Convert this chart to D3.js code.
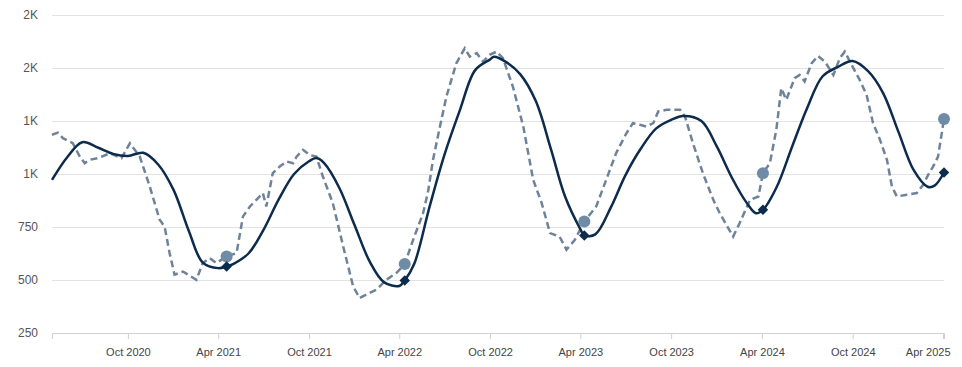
<!DOCTYPE html>
<html>
<head>
<meta charset="utf-8">
<script src="https://cdn.jsdelivr.net/npm/d3@7"></script>
<style>
  body { margin: 0; background: #fff; }
  svg { display: block; font-family: "Liberation Sans", Arial, sans-serif; }
</style>
</head>
<body>
<svg id="chart"></svg>
<script>
// datos
const fechasSuave = ["2020-05-01","2020-06-01","2020-07-01","2020-08-01","2020-09-01","2020-10-01","2020-11-01","2020-12-01",
  "2021-01-01","2021-02-01","2021-03-01","2021-04-01","2021-04-18","2021-05-01","2021-06-01","2021-07-01","2021-08-01","2021-09-01",
  "2021-10-01","2021-10-16","2021-11-01","2021-12-01","2022-01-01","2022-02-01","2022-03-01","2022-04-01","2022-04-12","2022-05-01",
  "2022-06-01","2022-07-01","2022-08-01","2022-09-01","2022-10-01","2022-10-09","2022-11-01","2022-12-01","2023-01-01","2023-02-01",
  "2023-03-01","2023-04-01","2023-04-09","2023-05-01","2023-06-01","2023-07-01","2023-08-01","2023-09-01","2023-10-01","2023-10-25",
  "2023-12-01","2024-01-01","2024-02-01","2024-03-01","2024-03-20","2024-04-03","2024-05-01","2024-06-01","2024-07-01","2024-08-01",
  "2024-09-01","2024-10-01","2024-11-01","2024-12-01","2025-01-01","2025-02-01","2025-03-01","2025-03-15","2025-04-03"];
const valoresSuave = [972,1080,1150,1125,1095,1085,1100,1045,
  925,730,582,556,564,575,625,735,880,1000,
  1060,1075,1050,935,758,584,490,472,498,575,
  845,1090,1300,1490,1540,1553,1530,1470,1345,1115,
  895,740,710,715,840,995,1120,1215,1255,1274,
  1250,1130,980,865,815,831,940,1130,1310,1460,
  1505,1533,1485,1383,1200,1018,940,945,1007];

const fechasSemanal = ["2020-05-01","2020-05-13","2020-05-23","2020-06-12","2020-06-26","2020-07-06","2020-07-16","2020-08-02",
  "2020-08-26","2020-09-18","2020-10-05","2020-10-25","2020-11-14","2020-12-04","2020-12-14","2020-12-24","2021-01-03","2021-01-20",
  "2021-02-16","2021-03-01","2021-03-15","2021-03-28","2021-04-18","2021-05-08","2021-05-21","2021-06-04","2021-06-17","2021-06-30",
  "2021-07-07","2021-07-20","2021-08-03","2021-08-17","2021-08-30","2021-09-06","2021-09-19","2021-10-02","2021-10-16","2021-10-29",
  "2021-11-18","2021-12-09","2021-12-29","2022-01-11","2022-01-31","2022-02-14","2022-03-06","2022-03-26","2022-04-12","2022-04-29",
  "2022-05-19","2022-05-29","2022-06-08","2022-06-22","2022-07-05","2022-07-15","2022-07-25","2022-08-11","2022-08-21","2022-09-04",
  "2022-09-17","2022-09-30","2022-10-14","2022-10-27","2022-11-16","2022-12-07","2022-12-27","2023-01-13","2023-01-30","2023-02-18",
  "2023-03-04","2023-03-21","2023-04-09","2023-05-03","2023-05-23","2023-06-12","2023-07-03","2023-07-16","2023-07-30","2023-08-12",
  "2023-08-26","2023-09-05","2023-09-22","2023-10-19","2023-10-29","2023-11-14","2023-12-04","2023-12-25","2024-01-07","2024-02-03",
  "2024-02-16","2024-03-08","2024-03-25","2024-04-03","2024-04-17","2024-04-30","2024-05-10","2024-05-20","2024-06-06","2024-06-16",
  "2024-06-26","2024-07-10","2024-07-23","2024-08-06","2024-08-23","2024-09-05","2024-09-15","2024-09-29","2024-10-15","2024-10-29",
  "2024-11-11","2024-11-25","2024-12-09","2024-12-19","2024-12-29","2025-01-18","2025-02-07","2025-02-20","2025-03-02","2025-03-12",
  "2025-03-22","2025-04-03"];
const valoresSemanal = [1185,1195,1169,1145,1082,1051,1067,1075,
  1098,1075,1145,1082,941,784,752,627,525,540,
  501,580,603,580,611,627,800,847,878,910,
  847,1004,1035,1059,1051,1082,1114,1090,1082,988,
  863,658,470,415,439,454,501,533,575,690,
  815,917,1067,1224,1365,1444,1522,1593,1554,1570,
  1530,1562,1577,1546,1412,1224,972,863,721,705,
  643,690,776,847,972,1098,1193,1240,1232,1224,
  1240,1295,1303,1303,1271,1145,1004,878,815,705,
  768,878,894,1004,1051,1208,1405,1350,1452,1467,
  1436,1522,1557,1530,1467,1546,1577,1514,1444,1373,
  1240,1161,1067,941,894,902,910,949,996,1035,
  1082,1259];

// fechas marcadas cada abril
const fechasMarcas = ["2021-04-18","2022-04-12","2023-04-09","2024-04-03","2025-04-03"];

const ticksX = ["2020-10-01","2021-04-01","2021-10-01","2022-04-01","2022-10-01","2023-04-01","2023-10-01","2024-04-01","2024-10-01","2025-04-01"];
const ticksY = [250, 500, 750, 1000, 1250, 1500, 1750];

const WIDTH = 962;
const HEIGHT = 367;
const margins = { top: 15, bottom: 34, left: 52, right: 18 };

const parse = d3.timeParse("%Y-%m-%d");

const svg = d3.select("#chart")
    .attr("width", WIDTH)
    .attr("height", HEIGHT);

const escalaX = d3.scaleTime()
    .domain([parse("2020-05-01"), parse("2025-04-03")])
    .range([margins.left, WIDTH - margins.right]);

const escalaY = d3.scaleLinear()
    .domain([250, 1750])
    .range([HEIGHT - margins.bottom, margins.top]);

// formato tipo "1K", "2K"
const formatoY = v => v >= 1000 ? d3.format(".1s")(v).toUpperCase() : String(v);

// grilla horizontal + etiquetas Y
const ejeY = d3.axisLeft(escalaY)
    .tickValues(ticksY)
    .tickSize(-(WIDTH - margins.left - margins.right))
    .tickFormat(formatoY);

svg.append("g")
    .attr("transform", `translate(${margins.left},0)`)
    .call(ejeY)
    .call(g => g.select(".domain").remove())
    .call(g => g.selectAll(".tick line").attr("stroke", "#e3e3e3").attr("stroke-width", 1))
    .call(g => g.selectAll(".tick text")
        .attr("x", -14)
        .attr("fill", "#555")
        .attr("font-size", 12));

// eje X
const ejeX = d3.axisBottom(escalaX)
    .tickValues(ticksX.map(parse))
    .tickSize(6)
    .tickFormat(d3.timeFormat("%b %Y"));

const gX = svg.append("g")
    .attr("transform", `translate(0,${HEIGHT - margins.bottom})`)
    .call(ejeX)
    .call(g => g.select(".domain").attr("stroke", "#d0d0d0"))
    .call(g => g.selectAll(".tick line").attr("stroke", "#d0d0d0"))
    .call(g => g.selectAll(".tick text")
        .attr("dy", "1.25em")
        .attr("fill", "#444")
        .attr("font-size", 11));

// la ultima etiqueta se corre a la izquierda para que no se corte
gX.selectAll(".tick:last-of-type text")
    .attr("text-anchor", "end")
    .attr("x", 7);

const datosSuave = fechasSuave.map((f, i) => ({ fecha: parse(f), valor: valoresSuave[i] }));
const datosSemanal = fechasSemanal.map((f, i) => ({ fecha: parse(f), valor: valoresSemanal[i] }));

const lineaSuave = d3.line()
    .x(d => escalaX(d.fecha))
    .y(d => escalaY(d.valor))
    .curve(d3.curveCatmullRom.alpha(0.5));

const lineaSemanal = d3.line()
    .x(d => escalaX(d.fecha))
    .y(d => escalaY(d.valor));

svg.append("path")
    .datum(datosSemanal)
    .attr("d", lineaSemanal)
    .attr("fill", "none")
    .attr("stroke", "#6e8399")
    .attr("stroke-width", 2.5)
    .attr("stroke-dasharray", "7,4");

svg.append("path")
    .datum(datosSuave)
    .attr("d", lineaSuave)
    .attr("fill", "none")
    .attr("stroke", "#0c2b4d")
    .attr("stroke-width", 2.5);

// marcadores
const buscar = (datos, f) => datos.find(d => +d.fecha === +parse(f));

svg.append("g").selectAll("circle")
    .data(fechasMarcas.map(f => buscar(datosSemanal, f)))
    .join("circle")
    .attr("cx", d => escalaX(d.fecha))
    .attr("cy", d => escalaY(d.valor))
    .attr("r", 6)
    .attr("fill", "#6f8ba6");

svg.append("g").selectAll("path")
    .data(fechasMarcas.map(f => buscar(datosSuave, f)))
    .join("path")
    .attr("d", d3.symbol(d3.symbolDiamond2, 70))
    .attr("transform", d => `translate(${escalaX(d.fecha)},${escalaY(d.valor)})`)
    .attr("fill", "#0c2b4d");
</script>
</body>
</html>
